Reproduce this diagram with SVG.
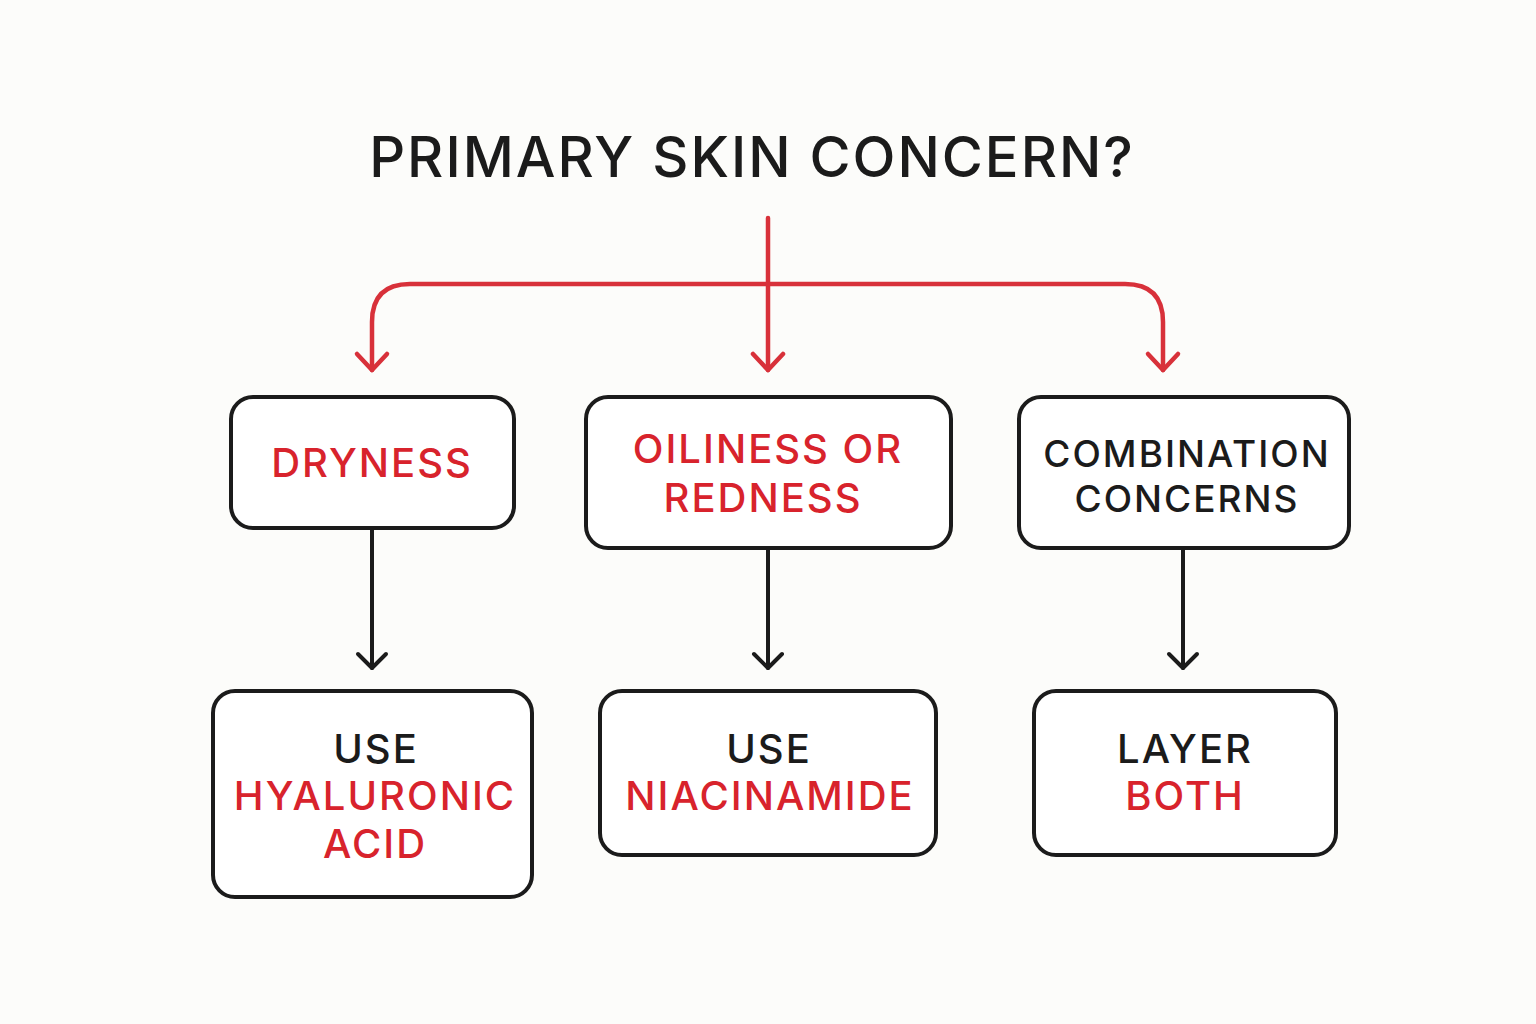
<svg xmlns="http://www.w3.org/2000/svg" width="1536" height="1024" viewBox="0 0 1536 1024">
<style>
.bg{fill:#fcfcfa}
.box{fill:#ffffff;stroke:#1b1b1b;stroke-width:4}
.t{font-family:Inter,"Noto Sans",sans-serif;font-weight:500;text-anchor:middle;letter-spacing:2px}
.r{fill:#d8232c}
.k{fill:#1b1b1b}
.red{fill:none;stroke:#d8313a;stroke-width:4.5;stroke-linecap:round;stroke-linejoin:round}
.blk{fill:none;stroke:#1b1b1b;stroke-width:4;stroke-linecap:round;stroke-linejoin:round}
</style>
<rect class="bg" x="0" y="0" width="1536" height="1024"/>
<g id="title"><text class="t k" x="752" y="177" font-size="56" font-weight="700" letter-spacing="2">PRIMARY SKIN CONCERN?</text></g>
<g id="connectors">
<path class="red" d="M768 218 V370"/>
<path class="red" d="M372 370 V322 Q372 284 410 284 H1125 Q1163 284 1163 322 V370"/>
<path class="red" d="M357 354 L372 370 L387 354"/>
<path class="red" d="M753 354 L768 370 L783 354"/>
<path class="red" d="M1148 354 L1163 370 L1178 354"/>
<path class="blk" d="M372 528 V668"/>
<path class="blk" d="M358 654 L372 668 L386 654"/>
<path class="blk" d="M768 548 V668"/>
<path class="blk" d="M754 654 L768 668 L782 654"/>
<path class="blk" d="M1183 548 V668"/>
<path class="blk" d="M1169 654 L1183 668 L1197 654"/>
</g>
<g id="dryness"><rect class="box" x="231" y="397" width="283" height="131" rx="22"/>
<text class="t r" x="372" y="477" font-size="40">DRYNESS</text></g>
<g id="oiliness"><rect class="box" x="586" y="397" width="365" height="151" rx="22"/>
<text class="t r" x="768" y="463" font-size="40" letter-spacing="2.6">OILINESS OR</text>
<text class="t r" x="763" y="512" font-size="40" letter-spacing="2.4">REDNESS</text></g>
<g id="combination"><rect class="box" x="1019" y="397" width="330" height="151" rx="22"/>
<text class="t k" x="1187" y="467" font-size="37" letter-spacing="1.6">COMBINATION</text>
<text class="t k" x="1187" y="512" font-size="37" letter-spacing="1.6">CONCERNS</text></g>
<g id="hyaluronic"><rect class="box" x="213" y="691" width="319" height="206" rx="22"/>
<text class="t k" x="376" y="763" font-size="40">USE</text>
<text class="t r" x="375" y="810" font-size="40" letter-spacing="1.6">HYALURONIC</text>
<text class="t r" x="375" y="858" font-size="40">ACID</text></g>
<g id="niacinamide"><rect class="box" x="600" y="691" width="336" height="164" rx="22"/>
<text class="t k" x="769" y="763" font-size="40">USE</text>
<text class="t r" x="770" y="810" font-size="40" letter-spacing="1.8">NIACINAMIDE</text></g>
<g id="layer"><rect class="box" x="1034" y="691" width="302" height="164" rx="22"/>
<text class="t k" x="1185" y="763" font-size="40">LAYER</text>
<text class="t r" x="1185" y="810" font-size="40">BOTH</text></g>
</svg>
